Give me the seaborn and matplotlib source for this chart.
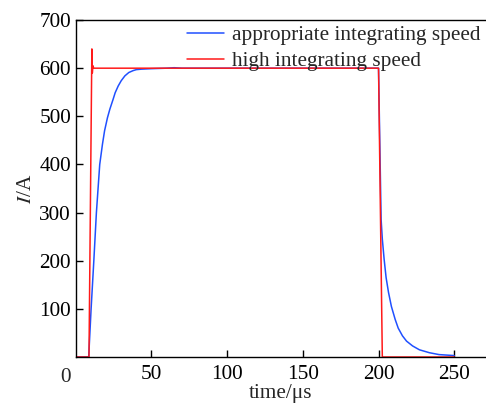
import matplotlib
matplotlib.use("Agg")
import matplotlib.pyplot as plt
import seaborn as sns
import pandas as pd

# values (time in us, current in A)
blue_t = [0, 8.5, 10.1, 11.9, 13.6, 15.8, 17.6, 19.0, 20.9, 22.5, 24.6, 26.0, 28.0,
          30.0, 32.4, 35.0, 37.9, 40.0, 43.4, 50, 60, 65, 70, 200.0, 201.7, 202.5,
          203.7, 205.0, 206.6, 208.5, 211.0, 213.0, 215.8, 218.5, 222.5, 227.0,
          233.5, 240.0, 250]
blue_i = [0, 0, 100, 200, 300, 400, 442, 470, 497, 515, 535, 549, 563,
          574, 584, 591, 595, 597, 598, 599, 600, 601, 600, 600, 286, 245,
          203, 165, 134, 105, 78, 60, 44, 33, 23, 15,
          9, 5, 3]

red_t = [0, 8.7, 10.6, 10.9, 11.3, 11.8, 200.0, 202.5, 250]
red_i = [0, 0, 640, 590, 605, 600, 600, 0, 0]

x_ticks = [50, 100, 150, 200, 250]
y_ticks = [100, 200, 300, 400, 500, 600, 700]

sns.set_style("ticks")
plt.rcParams["font.family"] = ["Liberation Serif", "DejaVu Serif"]
plt.rcParams["mathtext.fontset"] = "stix"

blue_df = pd.DataFrame({"t": blue_t, "I": blue_i})
red_df = pd.DataFrame({"t": red_t, "I": red_i})

fig = plt.figure(figsize=(4.86, 4.05), dpi=100)
ax = fig.add_axes([0.156, 0.1185, 0.844, 0.832])

sns.lineplot(data=blue_df, x="t", y="I", ax=ax, color="#2050ff", lw=1.1,
             sort=False, estimator=None, label="appropriate integrating speed")
sns.lineplot(data=red_df, x="t", y="I", ax=ax, color="#ff1a1a", lw=1.1,
             sort=False, estimator=None, label="high integrating speed")

fs = 15.3
ax.set_xlim(0, 271)
ax.set_ylim(0, 700)
ax.set_xticks(x_ticks)
ax.set_yticks(y_ticks)
ax.tick_params(direction="in", length=5, width=1, labelsize=fs, colors="black")
ax.tick_params(axis="x", pad=6)
ax.spines["right"].set_visible(False)
for s in ["left", "bottom", "top"]:
    ax.spines[s].set_linewidth(1.0)
    ax.spines[s].set_color("black")

ax.set_xlabel("time/\u03bcs", fontsize=fs, labelpad=0)
ax.set_ylabel(r"$I$/A", fontsize=fs, labelpad=2)
fig.text(65 / 486, 1 - 378 / 405, "0", fontsize=fs, ha="center", va="center")

ax.legend(frameon=False, loc="upper right", bbox_to_anchor=(1.0, 1.0),
          borderaxespad=0, borderpad=0.25, fontsize=fs, handlelength=1.75,
          handletextpad=0.4, labelspacing=0.3)

fig.savefig("out.png", dpi=100)
